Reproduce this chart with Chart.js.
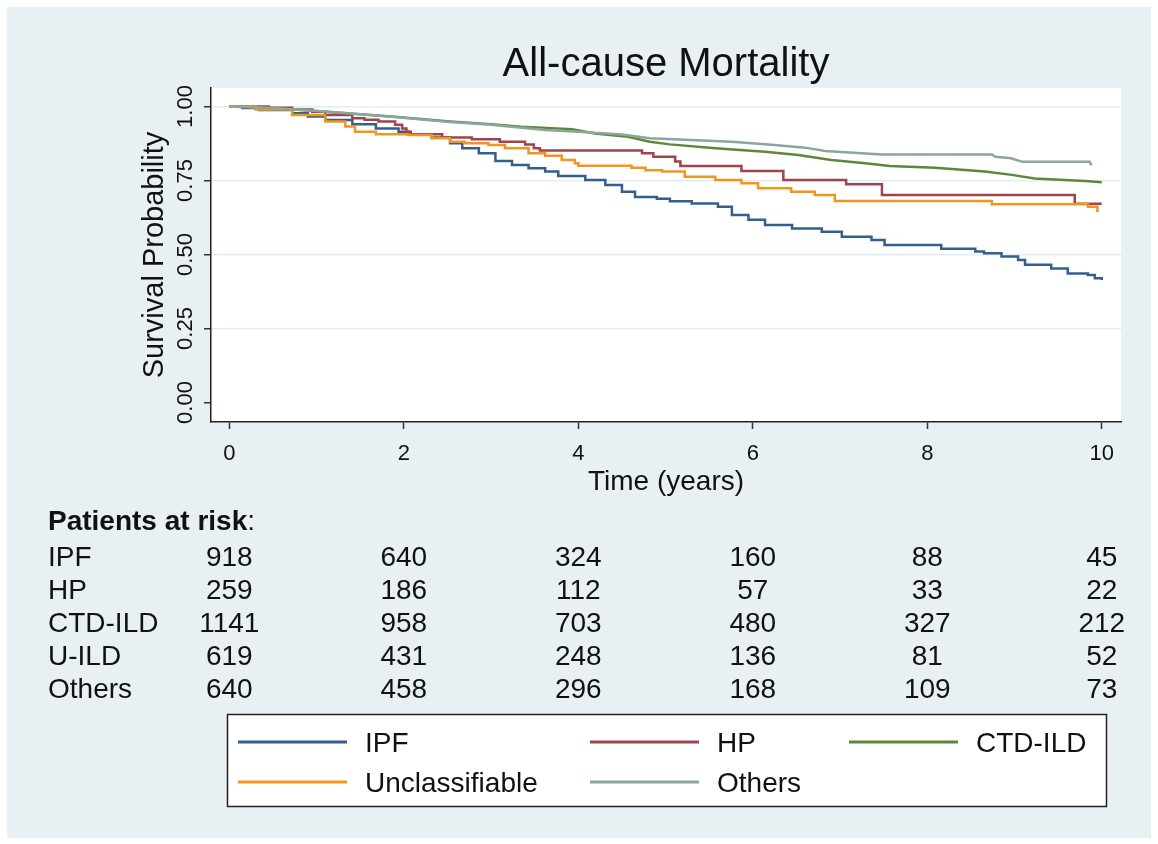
<!DOCTYPE html>
<html>
<head>
<meta charset="utf-8">
<title>All-cause Mortality</title>
<script src="https://cdn.jsdelivr.net/npm/chart.js@4.4.1/dist/chart.umd.min.js"></script>
<style>
  html, body { margin: 0; padding: 0; background: #ffffff; }
  #wrap { position: relative; width: 1158px; height: 844px; }
  canvas { display: block; }
</style>
</head>
<body>
<div id="wrap"><canvas id="km" width="1158" height="844"></canvas></div>
<script>
// Kaplan-Meier survival estimates by diagnosis group (time in years, survival probability)
const ipfTime = [0, 0.15, 0.34, 0.72, 0.90, 1.10, 1.41, 1.68, 1.94, 2.06, 2.32, 2.53, 2.67, 2.86, 3.05, 3.24, 3.43, 3.62, 3.77, 4.08, 4.31, 4.50, 4.65, 4.90, 5.05, 5.30, 5.60, 5.76, 5.95, 6.14, 6.45, 6.79, 7.02, 7.36, 7.51, 8.16, 8.55, 8.65, 8.85, 9.04, 9.12, 9.42, 9.61, 9.84, 9.92, 10.0];
const ipfSurv = [1, 0.995, 0.988, 0.977, 0.966, 0.954, 0.940, 0.926, 0.915, 0.906, 0.895, 0.876, 0.859, 0.842, 0.816, 0.802, 0.791, 0.780, 0.765, 0.752, 0.735, 0.712, 0.694, 0.688, 0.680, 0.672, 0.661, 0.633, 0.617, 0.600, 0.588, 0.577, 0.560, 0.549, 0.532, 0.519, 0.510, 0.504, 0.493, 0.481, 0.465, 0.453, 0.436, 0.431, 0.420, 0.414];

const hpTime = [0, 0.45, 0.72, 0.95, 1.10, 1.41, 1.55, 1.71, 1.90, 1.98, 2.03, 2.08, 2.44, 2.78, 3.10, 3.39, 3.49, 3.56, 4.73, 4.86, 5.11, 5.17, 5.87, 6.35, 7.07, 7.48, 9.69, 10.0];
const hpSurv = [1, 0.996, 0.990, 0.982, 0.971, 0.960, 0.955, 0.949, 0.938, 0.926, 0.915, 0.906, 0.895, 0.889, 0.881, 0.872, 0.859, 0.851, 0.842, 0.830, 0.814, 0.799, 0.782, 0.752, 0.737, 0.701, 0.671, 0.671];

const ctdTime = [0, 0.50, 1.10, 1.86, 2.53, 3.00, 3.35, 3.93, 4.19, 4.57, 4.82, 5.05, 5.57, 6.14, 6.52, 6.90, 7.29, 7.57, 8.09, 8.66, 8.97, 9.23, 9.81, 10.0];
const ctdSurv = [1, 0.995, 0.982, 0.966, 0.949, 0.940, 0.932, 0.923, 0.909, 0.898, 0.881, 0.872, 0.859, 0.847, 0.836, 0.819, 0.808, 0.799, 0.793, 0.780, 0.769, 0.757, 0.748, 0.744];

const uildTime = [0, 0.30, 0.72, 1.10, 1.33, 1.44, 1.68, 2.05, 2.32, 2.53, 2.70, 2.97, 3.16, 3.43, 3.62, 3.81, 3.96, 4.00, 4.61, 4.77, 4.96, 5.22, 5.57, 5.87, 6.06, 6.44, 6.71, 6.94, 8.74, 9.84, 9.95];
const uildSurv = [1, 0.990, 0.971, 0.949, 0.932, 0.915, 0.906, 0.904, 0.893, 0.881, 0.876, 0.870, 0.859, 0.842, 0.834, 0.819, 0.808, 0.800, 0.793, 0.785, 0.780, 0.763, 0.752, 0.741, 0.724, 0.712, 0.701, 0.681, 0.670, 0.661, 0.643];

const othTime = [0, 0.50, 1.10, 1.86, 2.53, 3.00, 3.62, 4.00, 4.50, 4.82, 5.76, 6.25, 6.60, 6.83, 7.48, 8.74, 8.78, 8.96, 9.09, 9.86, 9.88];
const othSurv = [1, 0.995, 0.983, 0.965, 0.948, 0.938, 0.921, 0.915, 0.905, 0.893, 0.881, 0.870, 0.861, 0.850, 0.838, 0.838, 0.830, 0.825, 0.813, 0.813, 0.802];

const seriesNames = ['IPF', 'HP', 'CTD-ILD', 'Unclassifiable', 'Others'];
const seriesColors = ['#345f8c', '#a0434a', '#5e873a', '#f0961e', '#8aa69d'];
// curves with large visible jumps are drawn as steps, the finely stepped ones as lines
const seriesStepped = ['before', 'before', false, 'before', false];

// Axis ticks
const xTicks = [0, 2, 4, 6, 8, 10];
const yTicks = [0, 0.25, 0.5, 0.75, 1];
const yTickLabels = ['0.00', '0.25', '0.50', '0.75', '1.00'];

// Numbers at risk at each x tick
const riskGroups = ['IPF', 'HP', 'CTD-ILD', 'U-ILD', 'Others'];
const riskIPF = [918, 640, 324, 160, 88, 45];
const riskHP = [259, 186, 112, 57, 33, 22];
const riskCTD = [1141, 958, 703, 480, 327, 212];
const riskUILD = [619, 431, 248, 136, 81, 52];
const riskOthers = [640, 458, 296, 168, 109, 73];

const titleText = 'All-cause Mortality';
const xTitle = 'Time (years)';
const yTitle = 'Survival Probability';
const riskHeader = 'Patients at risk';

const FONT = '"Liberation Sans", Arial, Helvetica, sans-serif';
const INK = '#111111';

const pairs = (t, s) => t.map((v, i) => ({ x: v, y: s[i] }));
const seriesData = [
  pairs(ipfTime, ipfSurv),
  pairs(hpTime, hpSurv),
  pairs(ctdTime, ctdSurv),
  pairs(uildTime, uildSurv),
  pairs(othTime, othSurv)
];
const riskRows = [riskIPF, riskHP, riskCTD, riskUILD, riskOthers];

// Background panels, titles, rotated y labels, risk table and legend box
const decor = {
  id: 'decor',
  beforeDraw(chart) {
    const { ctx, chartArea: a } = chart;
    ctx.save();
    ctx.fillStyle = '#ffffff';
    ctx.fillRect(0, 0, chart.width, chart.height);
    ctx.fillStyle = '#e9f0f3';
    ctx.fillRect(7, 7, 1144, 831);
    ctx.fillStyle = '#ffffff';
    ctx.fillRect(a.left, a.top, a.right - a.left, a.bottom - a.top);
    ctx.restore();
  },
  afterDraw(chart) {
    const { ctx, chartArea: a } = chart;
    const xs = chart.scales.x, ys = chart.scales.y;
    const cx = (a.left + a.right) / 2;
    ctx.save();
    ctx.fillStyle = INK;
    ctx.textBaseline = 'alphabetic';

    // chart title
    ctx.textAlign = 'center';
    ctx.font = `40px ${FONT}`;
    ctx.fillText(titleText, cx, 76);

    // x axis title
    ctx.font = `28px ${FONT}`;
    ctx.fillText(xTitle, cx, 490);

    // y tick labels, written vertically
    ctx.font = `22px ${FONT}`;
    yTicks.forEach((v, i) => {
      const py = ys.getPixelForValue(v);
      ctx.save();
      ctx.translate(191.5, py);
      ctx.rotate(-Math.PI / 2);
      ctx.fillText(yTickLabels[i], 0, 0);
      ctx.restore();
    });

    // y axis title
    ctx.font = `29px ${FONT}`;
    ctx.save();
    ctx.translate(163, (a.top + a.bottom) / 2);
    ctx.rotate(-Math.PI / 2);
    ctx.fillText(yTitle, 0, 0);
    ctx.restore();

    // numbers at risk
    ctx.textAlign = 'left';
    ctx.font = `bold 28px ${FONT}`;
    ctx.fillText(riskHeader, 48, 530);
    const hw = ctx.measureText(riskHeader).width;
    ctx.font = `28px ${FONT}`;
    ctx.fillText(':', 48 + hw, 530);
    riskGroups.forEach((g, r) => {
      const by = 566 + r * 33;
      ctx.textAlign = 'left';
      ctx.fillText(g, 48, by);
      ctx.textAlign = 'center';
      riskRows[r].forEach((n, j) => {
        ctx.fillText(String(n), xs.getPixelForValue(xTicks[j]), by);
      });
    });

    // legend box
    ctx.fillStyle = '#ffffff';
    ctx.fillRect(227.5, 714.5, 879, 92);
    ctx.strokeStyle = '#222222';
    ctx.lineWidth = 1.5;
    ctx.strokeRect(227.5, 714.5, 879, 92);
    const colX = [238, 590, 849];
    const rowY = [742, 782];
    ctx.textAlign = 'left';
    ctx.font = `28px ${FONT}`;
    seriesNames.forEach((name, i) => {
      const lx = colX[i % 3], ly = rowY[Math.floor(i / 3)];
      ctx.strokeStyle = seriesColors[i];
      ctx.lineWidth = 3;
      ctx.beginPath();
      ctx.moveTo(lx, ly);
      ctx.lineTo(lx + 109, ly);
      ctx.stroke();
      ctx.fillStyle = INK;
      ctx.fillText(name, lx + 127, ly + 10);
    });
    ctx.restore();
  }
};

new Chart(document.getElementById('km'), {
  type: 'line',
  data: {
    datasets: seriesData.map((d, i) => ({
      label: seriesNames[i],
      data: d,
      borderColor: seriesColors[i],
      backgroundColor: seriesColors[i],
      borderWidth: 2.5,
      pointRadius: 0,
      tension: 0,
      stepped: seriesStepped[i],
      fill: false,
      order: seriesData.length - 1 - i
    }))
  },
  options: {
    responsive: false,
    animation: false,
    events: [],
    layout: { padding: { left: 0, right: 37, top: 88, bottom: 0 } },
    plugins: { legend: { display: false }, tooltip: { enabled: false }, title: { display: false } },
    scales: {
      x: {
        type: 'linear',
        min: -0.21,
        max: 10.22,
        afterBuildTicks: s => { s.ticks = xTicks.map(v => ({ value: v })); },
        afterFit: s => { s.height = 422; },
        ticks: {
          autoSkip: false, maxRotation: 0, minRotation: 0,
          padding: 12, color: INK,
          font: { family: FONT, size: 22 },
          callback: v => String(v)
        },
        grid: { display: true, drawOnChartArea: false, drawTicks: true, tickLength: 7, tickWidth: 1.5, tickColor: '#333333' },
        border: { display: true, color: '#222222', width: 1.5 }
      },
      y: {
        type: 'linear',
        min: -0.066,
        max: 1.0625,
        afterBuildTicks: s => { s.ticks = yTicks.map(v => ({ value: v })); },
        afterFit: s => { s.width = 211; },
        ticks: { display: false },
        grid: {
          display: true, drawOnChartArea: true, drawTicks: true, tickLength: 7,
          tickWidth: 1.5, tickColor: '#333333', lineWidth: 1.5,
          color: c => (c.tick && c.tick.value === 0) ? 'rgba(0,0,0,0)' : '#e3ecef'
        },
        border: { display: true, color: '#222222', width: 1.5 }
      }
    }
  },
  plugins: [decor]
});
</script>
</body>
</html>
